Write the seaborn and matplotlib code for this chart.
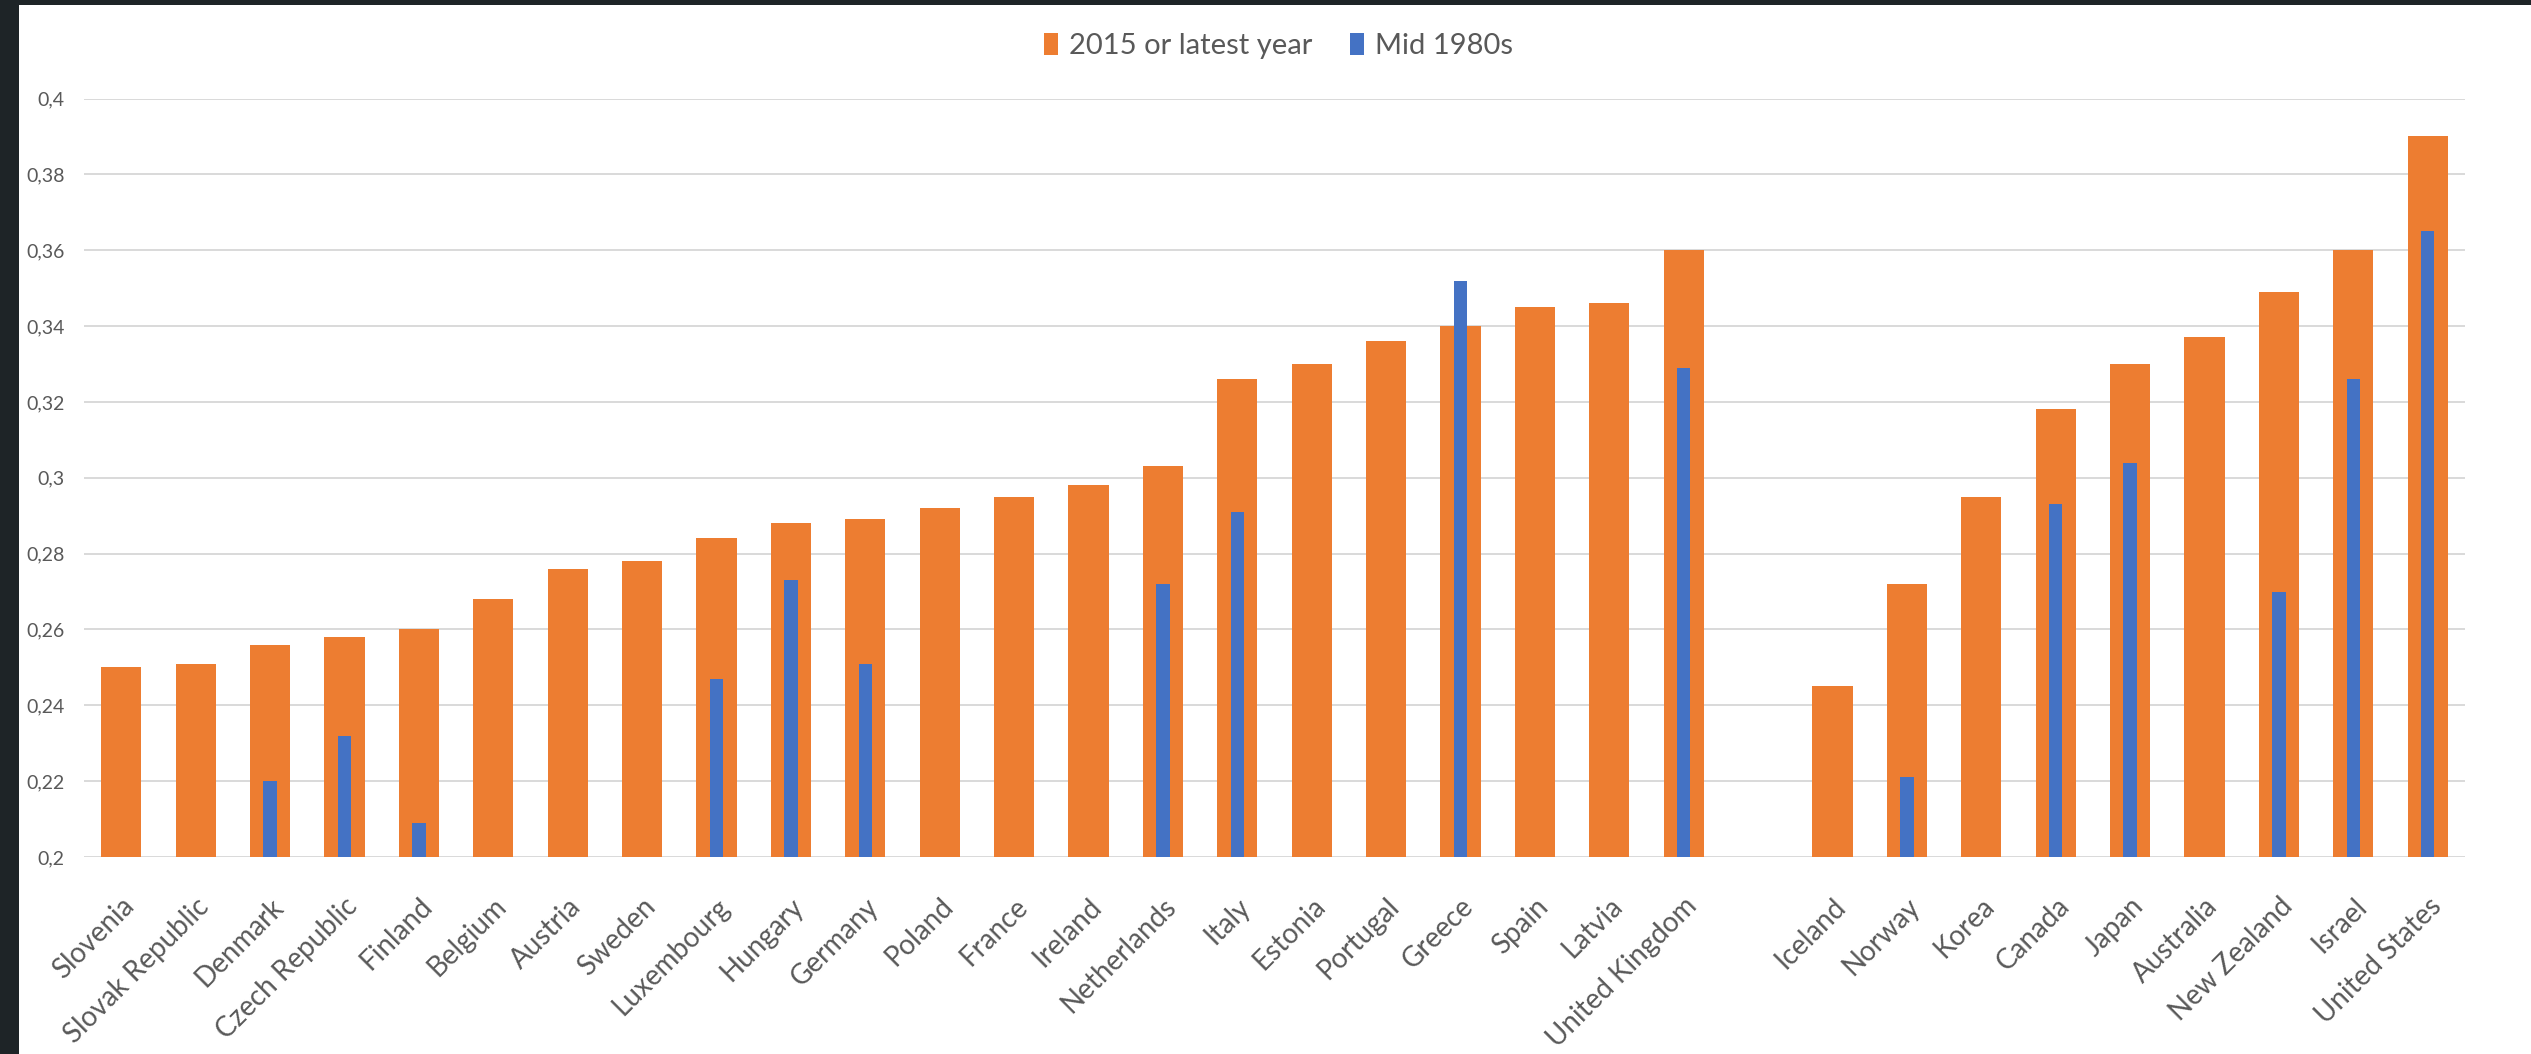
import numpy as np
import pandas as pd
import matplotlib
matplotlib.use("Agg")
import matplotlib.pyplot as plt
from matplotlib.patches import Rectangle, Patch
import seaborn as sns

# ---------------- data ----------------
countries_group1 = ["Slovenia", "Slovak Republic", "Denmark", "Czech Republic", "Finland",
                    "Belgium", "Austria", "Sweden", "Luxembourg", "Hungary", "Germany",
                    "Poland", "France", "Ireland", "Netherlands", "Italy", "Estonia",
                    "Portugal", "Greece", "Spain", "Latvia", "United Kingdom"]
countries_group2 = ["Iceland", "Norway", "Korea", "Canada", "Japan", "Australia",
                    "New Zealand", "Israel", "United States"]

latest_group1 = [0.250, 0.251, 0.256, 0.258, 0.260, 0.268, 0.276, 0.278, 0.284, 0.288, 0.289,
                 0.292, 0.295, 0.298, 0.303, 0.326, 0.330, 0.336, 0.340, 0.345, 0.346, 0.360]
latest_group2 = [0.245, 0.272, 0.295, 0.318, 0.330, 0.337, 0.349, 0.360, 0.390]

nan = np.nan
mid80s_group1 = [nan, nan, 0.220, 0.232, 0.209, nan, nan, nan, 0.247, 0.273, 0.251,
                 nan, nan, nan, 0.272, 0.291, nan, nan, 0.352, nan, nan, 0.329]
mid80s_group2 = [nan, 0.221, nan, 0.293, 0.304, nan, 0.270, 0.326, 0.365]

series_names = ["2015 or latest year", "Mid 1980s"]
ytick_values = [0.2, 0.22, 0.24, 0.26, 0.28, 0.3, 0.32, 0.34, 0.36, 0.38, 0.4]
ytick_labels = ["0,2", "0,22", "0,24", "0,26", "0,28", "0,3", "0,32", "0,34", "0,36", "0,38", "0,4"]

GAP = " "
order = countries_group1 + [GAP] + countries_group2

df_latest = pd.DataFrame({"country": countries_group1 + countries_group2,
                          "value": latest_group1 + latest_group2})
df_mid = pd.DataFrame({"country": countries_group1 + countries_group2,
                       "value": mid80s_group1 + mid80s_group2}).dropna()

# ---------------- style ----------------
sns.set_theme(style="white")
plt.rcParams["font.family"] = ["Lato", "DejaVu Sans"]

ORANGE = "#ED7D31"
BLUE = "#4472C4"
TEXT = "#595959"
GRID = "#D9D9D9"

W, H, DPI = 2531, 1054, 100
fig = plt.figure(figsize=(W / DPI, H / DPI), dpi=DPI, facecolor="white")
ax = fig.add_axes([84 / W, 1 - 857 / H, (2465 - 84) / W, (857 - 98.5) / H])

sns.barplot(data=df_latest, x="country", y="value", order=order, color=ORANGE,
            saturation=1, width=0.54, errorbar=None, ax=ax, zorder=2)
sns.barplot(data=df_mid, x="country", y="value", order=order, color=BLUE,
            saturation=1, width=0.18, errorbar=None, ax=ax, zorder=3)

for p in ax.patches:
    p.set_linewidth(0)

ax.set_xlim(-0.5, len(order) - 0.5)
ax.set_ylim(0.2, 0.4)
ax.set_yticks(ytick_values)
ax.set_yticklabels(ytick_labels, fontsize=14, color=TEXT)
ax.set_xlabel("")
ax.set_ylabel("")
ax.set_xticks(range(len(order)))
ax.set_xticklabels(order, rotation=45, ha="right", rotation_mode="anchor",
                   fontsize=20, color=TEXT)
ax.tick_params(axis="y", length=0, pad=14)
ax.tick_params(axis="x", length=0, pad=26)

ax.set_axisbelow(True)
ax.yaxis.grid(True, color=GRID, linewidth=1.4)
ax.xaxis.grid(False)
for s in ax.spines.values():
    s.set_visible(False)

handles = [Patch(facecolor=ORANGE, edgecolor="none"), Patch(facecolor=BLUE, edgecolor="none")]
fig.legend(handles, series_names, loc="center", bbox_to_anchor=(0.505, 1 - 46 / H),
           ncol=2, frameon=False, fontsize=21, labelcolor=TEXT,
           handlelength=0.5, handleheight=0.75, handletextpad=0.35, columnspacing=1.3)

# dark frame strips (left and top) from screenshot
dark = "#1E2427"
fig.patches.append(Rectangle((0, 0), 19 / W, 1, transform=fig.transFigure,
                             facecolor=dark, edgecolor="none", zorder=10))
fig.patches.append(Rectangle((0, 1 - 5 / H), 1, 5 / H, transform=fig.transFigure,
                             facecolor=dark, edgecolor="none", zorder=10))

fig.savefig("out.png", dpi=DPI, facecolor="white")
